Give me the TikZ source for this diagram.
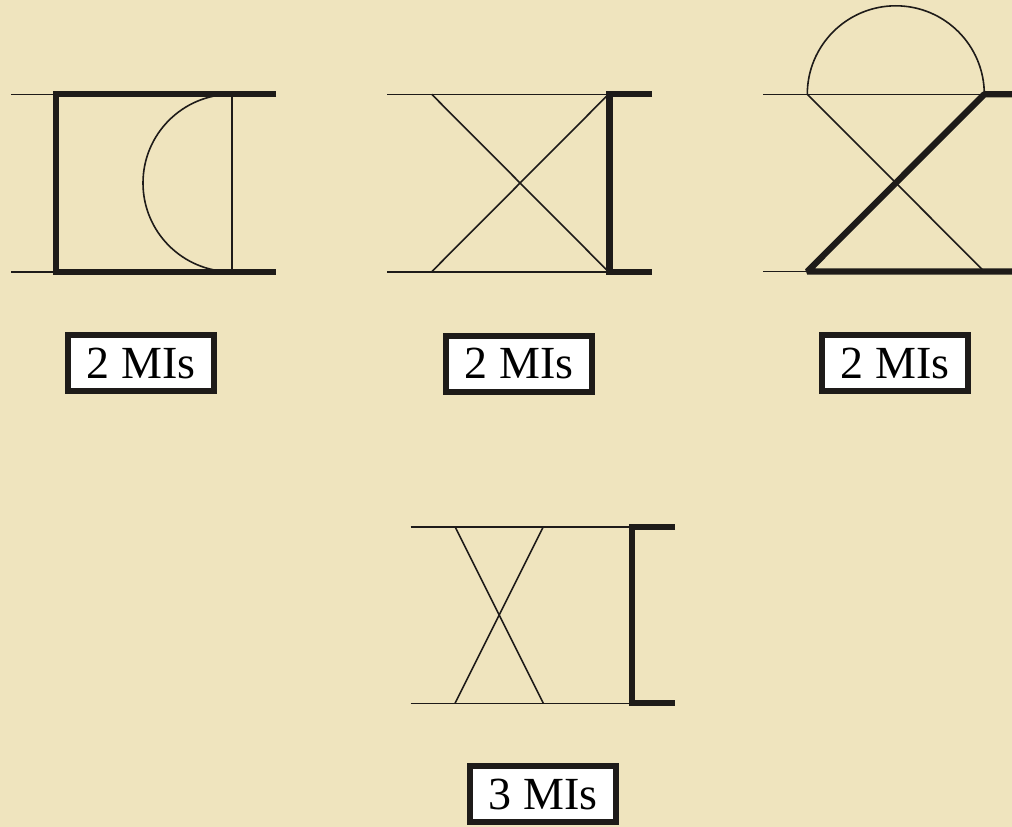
\documentclass[tikz,border=0pt]{standalone}
\usepackage{fontspec}
\setmainfont{Liberation Serif}
\usetikzlibrary{positioning}

\definecolor{parchment}{RGB}{239,228,190}
\definecolor{ink}{RGB}{30,27,25}

\begin{document}
\begin{tikzpicture}[
  x=1pt,y=-1pt,
  thinline/.style={draw=ink, line width=1.6pt},
  thickline/.style={draw=ink, line width=6.3pt},
  tag/.style={draw=ink, fill=white, line width=6pt, minimum width=146pt, minimum height=56pt,
    inner sep=0pt, font=\fontsize{46}{50}\selectfont}
]

% Background
\fill[parchment] (0,0) rectangle (1012,827);
\useasboundingbox (0,0) rectangle (1012,827);

% ================= Symbol 1: bracket left, half circle =================
\draw[thinline] (11,94.3) -- (56,94.3);
\draw[thinline] (11,271.7) -- (56,271.7);
\draw[thinline] (231.7,94.3) -- (231.7,271.7);
\draw[thinline] (231.7,94.3) arc[start angle=90, end angle=270, radius=88.7pt];
\draw[thickline] (276,94.3) -- (56,94.3) -- (56,271.7) -- (276,271.7);

% ================= Symbol 2: cross, bracket right =================
\draw[thinline] (387,94.3) -- (608.5,94.3);
\draw[thinline] (387,271.7) -- (608.5,271.7);
\draw[thinline] (431.7,94.3) -- (608.5,271.7);
\draw[thinline] (431.7,271.7) -- (608.5,94.3);
\draw[thickline] (652,94.3) -- (609.5,94.3) -- (609.5,271.7) -- (652,271.7);

% ================= Symbol 3: half circle on top, thick diagonal =================
\draw[thinline] (763,94.3) -- (984.3,94.3);
\draw[thinline] (763,271.5) -- (807.3,271.5);
\draw[thinline] (984.3,94.3) arc[start angle=0, end angle=180, radius=88.5pt];
\draw[thinline] (807.3,94.3) -- (984.3,271.5);
\draw[thickline, line join=bevel] (1016,94.3) -- (984.3,94.3) -- (807.3,271.5) -- (1016,271.5);

% ================= Symbol 4: narrow cross, bracket right =================
\draw[thinline] (410.7,526.7) -- (631,526.7);
\draw[thinline] (410.7,703.3) -- (631,703.3);
\draw[thinline] (455,526.7) -- (543.3,703.3);
\draw[thinline] (455,703.3) -- (543.3,526.7);
\draw[thickline] (675,526.7) -- (632.3,526.7) -- (632.3,703.3) -- (675,703.3);

% Labels
\node[tag] (tagA) at (141,363) {2 MIs};
\node[tag] (tagB) at (519,363.5) {2 MIs};
\node[tag] (tagC) at (895,363) {2 MIs};
\node[tag] (tagD) at (543.3,794) {3 MIs};

\end{tikzpicture}
\end{document}
